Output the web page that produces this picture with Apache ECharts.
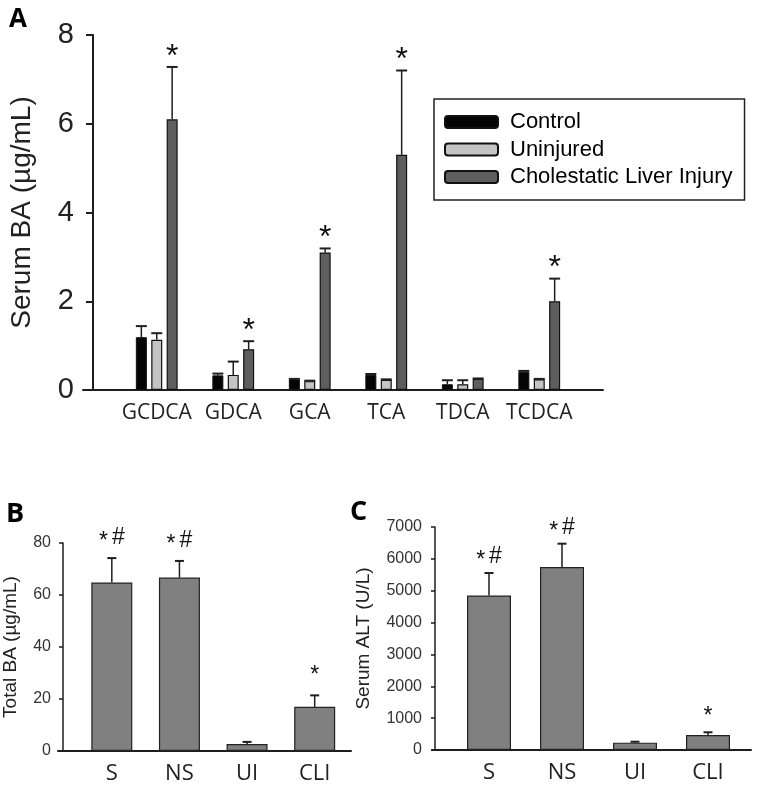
<!DOCTYPE html>
<html>
<head>
<meta charset="utf-8">
<script src="https://cdn.jsdelivr.net/npm/echarts@6/dist/echarts.min.js"></script>
<style>
html,body{margin:0;padding:0;background:#fff;}
#chart{width:761px;height:785px;}
</style>
</head>
<body>
<div id="chart"></div>
<script>
// ---------- Panel A data ----------
const categoriesA = ['GCDCA', 'GDCA', 'GCA', 'TCA', 'TDCA', 'TCDCA'];
const controlMean   = [1.19, 0.33, 0.24, 0.34, 0.13, 0.41];
const controlErr    = [0.25, 0.04, 0.01, 0.02, 0.09, 0.02];
const uninjuredMean = [1.13, 0.34, 0.20, 0.23, 0.13, 0.24];
const uninjuredErr  = [0.15, 0.30, 0.01, 0.01, 0.09, 0.01];
const cliMean       = [6.10, 0.92, 3.10, 5.30, 0.25, 2.00];
const cliErr        = [1.18, 0.18, 0.09, 1.90, 0.01, 0.51];
const sigA          = ['*', '*', '*', '*', '', '*'];
const ticksA = [0, 2, 4, 6, 8];

// ---------- Panel B data ----------
const categoriesB = ['S', 'NS', 'UI', 'CLI'];
const totalBA     = [64.8, 66.7, 2.7, 17.0];
const totalBAErr  = [9.4, 6.4, 0.8, 4.4];
const sigB        = ['*#', '*#', '', '*'];
const ticksB = [0, 20, 40, 60, 80];

// ---------- Panel C data ----------
const categoriesC = ['S', 'NS', 'UI', 'CLI'];
const alt     = [4850, 5743, 230, 472];
const altErr  = [705, 733, 30, 84];
const sigC    = ['*#', '*#', '', '*'];
const ticksC = [0, 1000, 2000, 3000, 4000, 5000, 6000, 7000];

const seriesNamesA = ['Control', 'Uninjured', 'Cholestatic Liver Injury'];
const colorsA = ['#050505', '#c4c4c4', '#5e5e5e'];

const chart = echarts.init(document.getElementById('chart'), null, {renderer: 'canvas'});

const AX = '#1e1e1e';

function errSeries(gridIdx, means, errs, sigs, offset, capHalf, sigFont, sigGap) {
  return {
    type: 'custom',
    xAxisIndex: gridIdx, yAxisIndex: gridIdx,
    z: 5,
    data: means.map((m, i) => [i, m, errs[i]]),
    renderItem: function (params, api) {
      const i = api.value(0), m = api.value(1), e = api.value(2);
      const base = api.coord([i, m]);
      const top = api.coord([i, m + e]);
      const x = base[0] + offset;
      const children = [
        {type: 'line', shape: {x1: x, y1: base[1], x2: x, y2: top[1]}, style: {stroke: AX, lineWidth: 1.5}},
        {type: 'line', shape: {x1: x - capHalf, y1: top[1], x2: x + capHalf, y2: top[1]}, style: {stroke: AX, lineWidth: 2}}
      ];
      const s = sigs[params.dataIndex];
      if (s) {
        if (s === '*') {
          children.push({type: 'text', style: {text: '*', x: x, y: top[1] - sigGap, align: 'center', verticalAlign: 'middle',
            font: sigFont + 'px "Liberation Sans", Arial', fill: '#111'}});
        } else {
          children.push({type: 'text', style: {text: '{a|*}{b|#}', x: x, y: top[1] - sigGap, align: 'center', verticalAlign: 'middle',
            rich: {a: {fontSize: sigFont, fontFamily: 'Liberation Sans', fill: '#111', padding: [sigFont * 0.35, 4, 0, 0]},
                   b: {fontSize: sigFont, fontFamily: 'Liberation Sans', fill: '#111'}}}});
        }
      }
      return {type: 'group', children: children};
    }
  };
}

function lineGrid(idx) {
  return [
    {type: 'value', gridIndex: idx, min: 0, max: 1, axisLine: {show: true, lineStyle: {color: AX, width: 2}},
     axisTick: {show: false}, axisLabel: {show: false}, splitLine: {show: false}},
    {type: 'value', gridIndex: idx, show: false}
  ];
}

const lgA = lineGrid(1), lgB = lineGrid(3), lgC = lineGrid(5);
const plain = v => String(v);

const option = {
  backgroundColor: '#fff',
  animation: false,
  title: [
    {text: 'A', left: 9, top: 7, padding: 0, textStyle: {fontFamily: 'Open Sans', fontWeight: 'bold', fontSize: 26, color: '#000'}},
    {text: 'B', left: 6, top: 501, padding: 0, textStyle: {fontFamily: 'Open Sans', fontWeight: 'bold', fontSize: 27, color: '#000'}},
    {text: 'C', left: 350, top: 499, padding: 0, textStyle: {fontFamily: 'Open Sans', fontWeight: 'bold', fontSize: 27, color: '#000'}}
  ],
  legend: {
    orient: 'vertical', left: 434, top: 99,
    data: seriesNamesA,
    borderColor: '#222', borderWidth: 1.5,
    padding: [12, 12, 12, 10],
    itemWidth: 53, itemHeight: 12, itemGap: 5.5,
    textStyle: {fontFamily: 'Liberation Sans', fontSize: 22, lineHeight: 22, color: '#000', padding: [0, 0, 0, 7]}
  },
  grid: [
    {left: 115.5, right: 761 - 577.5, top: 35, bottom: 785 - 390},
    {left: 83, right: 761 - 603, top: 35, bottom: 785 - 390},
    {left: 76.5, right: 761 - 348.5, top: 543, bottom: 785 - 751},
    {left: 58, right: 761 - 351, top: 543, bottom: 785 - 751},
    {left: 452.5, right: 761 - 744.5, top: 527, bottom: 785 - 750},
    {left: 432, right: 10, top: 527, bottom: 785 - 750}
  ],
  xAxis: [
    {type: 'category', gridIndex: 0, data: categoriesA, axisLine: {show: false}, axisTick: {show: false},
     axisLabel: {interval: 0, fontFamily: 'Open Sans', fontSize: 21, color: '#222', margin: 13}},
    lgA[0],
    {type: 'category', gridIndex: 2, data: categoriesB, axisLine: {show: false}, axisTick: {show: false},
     axisLabel: {interval: 0, fontFamily: 'Open Sans', fontSize: 22, color: '#222', margin: 12}},
    lgB[0],
    {type: 'category', gridIndex: 4, data: categoriesC, axisLine: {show: false}, axisTick: {show: false},
     axisLabel: {interval: 0, fontFamily: 'Open Sans', fontSize: 22, color: '#222', margin: 12}},
    lgC[0]
  ],
  yAxis: [
    {type: 'value', gridIndex: 0, min: ticksA[0], max: ticksA[ticksA.length - 1], interval: ticksA[1] - ticksA[0], offset: 25.5,
     name: 'Serum BA (µg/mL)', nameLocation: 'middle', nameGap: 57,
     nameTextStyle: {fontFamily: 'Liberation Sans', fontSize: 28, color: '#222'},
     axisLine: {show: true, lineStyle: {color: AX, width: 2}},
     axisTick: {show: true, length: 7, lineStyle: {color: AX, width: 2}},
     axisLabel: {fontFamily: 'Liberation Sans', fontSize: 29, color: '#222', margin: 19, formatter: plain},
     splitLine: {show: false}},
    lgA[1],
    {type: 'value', gridIndex: 2, min: ticksB[0], max: ticksB[ticksB.length - 1], interval: ticksB[1] - ticksB[0], offset: 15,
     name: 'Total BA (µg/mL)', nameLocation: 'middle', nameGap: 43,
     nameTextStyle: {fontFamily: 'Liberation Sans', fontSize: 19, color: '#222'},
     axisLine: {show: true, lineStyle: {color: AX, width: 1.5}},
     axisTick: {show: true, length: 4, lineStyle: {color: AX, width: 1.5}},
     axisLabel: {fontFamily: 'Liberation Sans', fontSize: 16, color: '#333', margin: 12, formatter: plain},
     splitLine: {show: false}},
    lgB[1],
    {type: 'value', gridIndex: 4, min: ticksC[0], max: ticksC[ticksC.length - 1], interval: ticksC[1] - ticksC[0], offset: 17.5,
     name: 'Serum ALT (U/L)', nameLocation: 'middle', nameGap: 62,
     nameTextStyle: {fontFamily: 'Liberation Sans', fontSize: 19, color: '#222'},
     axisLine: {show: true, lineStyle: {color: AX, width: 1.5}},
     axisTick: {show: true, length: 4, lineStyle: {color: AX, width: 1.5}},
     axisLabel: {fontFamily: 'Liberation Sans', fontSize: 16, color: '#333', margin: 13, formatter: plain},
     splitLine: {show: false}},
    lgC[1]
  ],
  series: [
    {name: seriesNamesA[0], type: 'bar', xAxisIndex: 0, yAxisIndex: 0, data: controlMean, barWidth: 11, barGap: '40%',
     itemStyle: {color: colorsA[0], borderColor: '#111', borderWidth: 1}},
    {name: seriesNamesA[1], type: 'bar', xAxisIndex: 0, yAxisIndex: 0, data: uninjuredMean, barWidth: 11, barGap: '40%',
     itemStyle: {color: colorsA[1], borderColor: '#111', borderWidth: 1.2}},
    {name: seriesNamesA[2], type: 'bar', xAxisIndex: 0, yAxisIndex: 0, data: cliMean, barWidth: 11, barGap: '40%',
     itemStyle: {color: colorsA[2], borderColor: '#111', borderWidth: 1.2}},
    errSeries(0, controlMean, controlErr, ['', '', '', '', '', ''], -15.4, 5.5, 30, 15),
    errSeries(0, uninjuredMean, uninjuredErr, ['', '', '', '', '', ''], 0, 5.5, 30, 15),
    errSeries(0, cliMean, cliErr, sigA, 15.4, 5.5, 32, 10),
    {type: 'bar', xAxisIndex: 2, yAxisIndex: 2, data: totalBA, barWidth: 41,
     itemStyle: {color: '#808080', borderColor: '#222', borderWidth: 1.2}},
    errSeries(2, totalBA, totalBAErr, sigB, 0, 4.5, 23, 20),
    {type: 'bar', xAxisIndex: 4, yAxisIndex: 4, data: alt, barWidth: 44,
     itemStyle: {color: '#808080', borderColor: '#222', borderWidth: 1.2}},
    errSeries(4, alt, altErr, sigC, 0, 4.5, 23, 16)
  ]
};

chart.setOption(option);
</script>
</body>
</html>
